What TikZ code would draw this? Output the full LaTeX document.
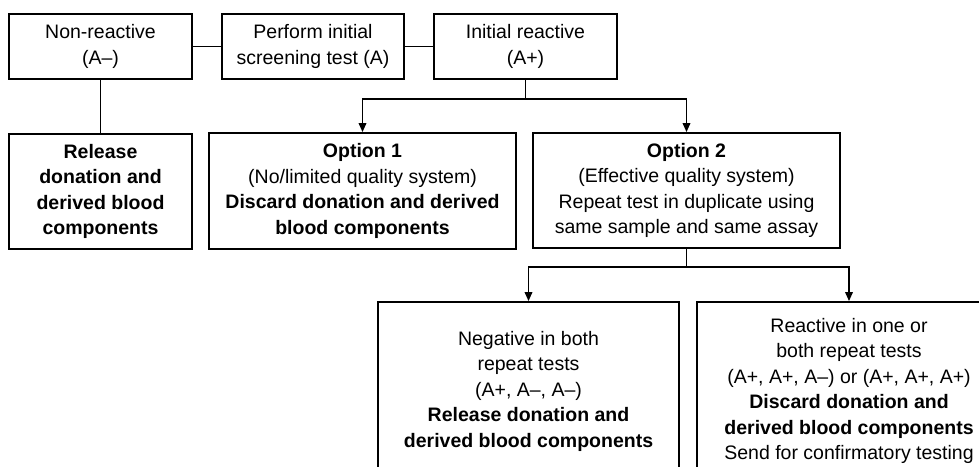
\documentclass[tikz,border=0pt]{standalone}
\usepackage{fontspec}
\setmainfont{Liberation Sans}
\usetikzlibrary{arrows.meta}
\begin{document}
\begin{tikzpicture}[x=1pt,y=-1pt,
  box/.style={draw, line width=1.8pt, align=center, inner sep=0pt,
    font=\fontsize{19.5}{25.5}\selectfont},
  link/.style={line width=1.8pt},
  arr/.style={line width=1.8pt, -{Triangle[length=9pt,width=7.5pt]}}]
\path[use as bounding box] (0,0) rectangle (979,466);
\clip (0,0) rectangle (979,466);
\fill[white] (0,0) rectangle (979,466);
\node[box, minimum width=183pt, minimum height=65pt] (nr) at (100.5,46.5) {Non-reactive\\(A–)};
\node[box, minimum width=182pt, minimum height=65pt] (perf) at (313,46.5) {Perform initial\\screening test (A)};
\node[box, minimum width=183pt, minimum height=65pt] (ir) at (525.5,46.5) {Initial reactive\\(A+)};
\node[box, minimum width=183pt, minimum height=115pt, font=\fontsize{19.5}{25.5}\selectfont\bfseries] (rel) at (100.5,191.5) {Release\\donation and\\derived blood\\components};
\node[box, minimum width=307pt, minimum height=116pt] (op1) at (362.5,191) {\textbf{Option 1}\\(No/limited quality system)\\\textbf{Discard donation and derived}\\\textbf{blood components}};
\node[box, minimum width=307pt, minimum height=115pt] (op2) at (686.5,190.5) {\textbf{Option 2}\\(Effective quality system)\\Repeat test in duplicate using\\same sample and same assay};
\node[box, minimum width=301pt, minimum height=178pt] (neg) at (528.5,391) {Negative in both\\repeat tests\\(A+, A–, A–)\\\textbf{Release donation and}\\\textbf{derived blood components}};
\node[box, minimum width=304pt, minimum height=178pt] (rea) at (849,391) {Reactive in one or\\both repeat tests\\(A+, A+, A–) or (A+, A+, A+)\\\textbf{Discard donation and}\\\textbf{derived blood components}\\Send for confirmatory testing};
\draw[link] (nr) -- (perf);
\draw[link] (perf) -- (ir);
\draw[link] (nr) -- (rel);
\draw[arr] (ir.south) -- ++(0,19) -| (op1.north);
\draw[arr] (ir.south) -- ++(0,19) -| (op2.north);
\draw[arr] (op2.south) -- ++(0,18) -| (neg.north);
\draw[arr] (op2.south) -- ++(0,18) -| (rea.north);
\end{tikzpicture}
\end{document}
